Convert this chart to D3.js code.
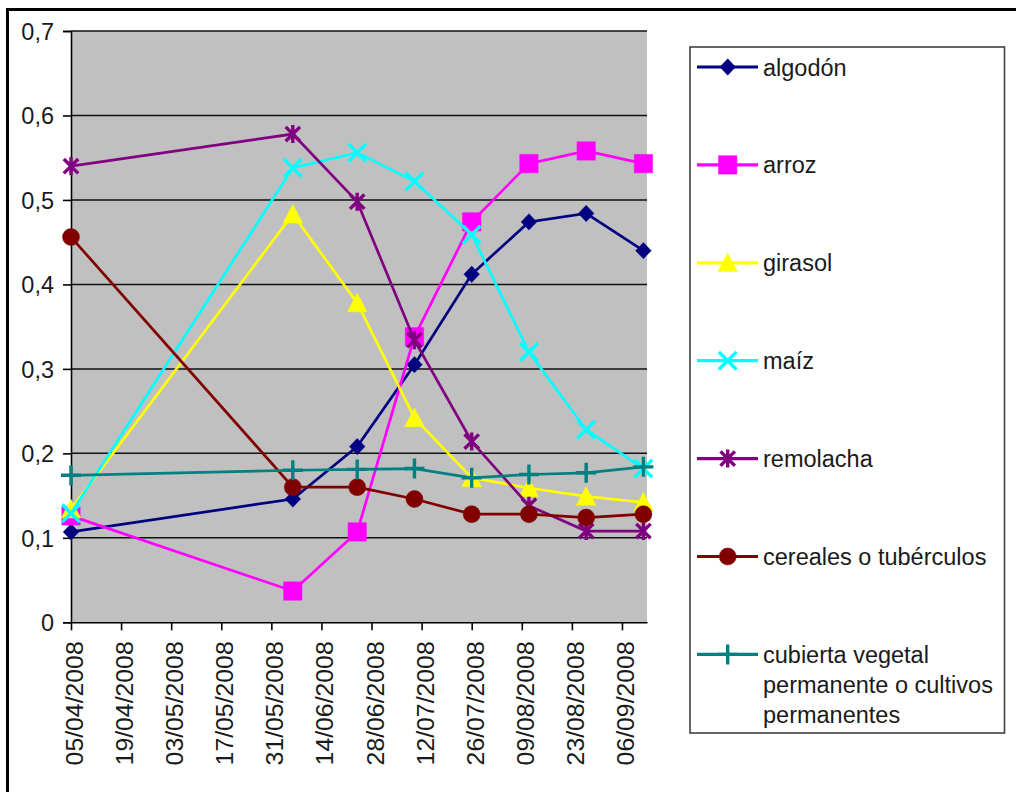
<!DOCTYPE html>
<html>
<head>
<meta charset="utf-8">
<script src="https://cdn.jsdelivr.net/npm/d3@7"></script>
<style>
  html, body { margin: 0; padding: 0; background: #ffffff; }
  svg { display: block; }
  text { font-family: "Liberation Sans", Arial, Helvetica, sans-serif; fill: #1a1a1a; }
</style>
</head>
<body>
<svg id="chart" width="1016" height="792"></svg>
<script>
// Sampling dates (dd/mm/yyyy)
const dates = ["05/04/2008", "06/06/2008", "24/06/2008", "10/07/2008",
               "26/07/2008", "11/08/2008", "27/08/2008", "12/09/2008"];

// Index values per crop class
const algodon   = [0.107, 0.146, 0.208, 0.305, 0.412, 0.474, 0.484, 0.440];
const arroz     = [0.126, 0.037, 0.107, 0.338, 0.474, 0.543, 0.558, 0.543];
const girasol   = [0.134, 0.483, 0.378, 0.242, 0.171, 0.159, 0.149, 0.142];
const maiz      = [0.129, 0.538, 0.556, 0.522, 0.459, 0.320, 0.228, 0.182];
const remolacha = [0.540, 0.578, 0.498, 0.334, 0.214, 0.138, 0.108, 0.108];
const cereales  = [0.456, 0.160, 0.160, 0.146, 0.128, 0.128, 0.124, 0.128];
const cubierta  = [0.174, 0.180, 0.181, 0.182, 0.171, 0.175, 0.177, 0.184];

const seriesNames = ["algodón", "arroz", "girasol", "maíz", "remolacha",
                     "cereales o tubérculos",
                     "cubierta vegetal permanente o cultivos permanentes"];

// Axis ticks
const xTickLabels = ["05/04/2008", "19/04/2008", "03/05/2008", "17/05/2008",
                     "31/05/2008", "14/06/2008", "28/06/2008", "12/07/2008",
                     "26/07/2008", "09/08/2008", "23/08/2008", "06/09/2008"];
const yTicks = [0, 0.1, 0.2, 0.3, 0.4, 0.5, 0.6, 0.7];
const xDomain = ["05/04/2008", "13/09/2008"];

const parse = d3.utcParse("%d/%m/%Y");

// Marker shapes; size is the half-extent of the mark in pixels
const shapes = {
  diamond: { fill: true, draw(c, s) { c.moveTo(0, -s); c.lineTo(s * 0.95, 0); c.lineTo(0, s); c.lineTo(-s * 0.95, 0); c.closePath(); } },
  square:  { fill: true, draw(c, s) { c.rect(-s, -s, 2 * s, 2 * s); } },
  triangle:{ fill: true, draw(c, s) { c.moveTo(0, -s); c.lineTo(s, s * 0.9); c.lineTo(-s, s * 0.9); c.closePath(); } },
  times:   { fill: false, draw(c, s) { c.moveTo(-s, -s); c.lineTo(s, s); c.moveTo(s, -s); c.lineTo(-s, s); } },
  asterisk:{ fill: false, draw(c, s) { const k = s * 0.8; c.moveTo(-k, -k); c.lineTo(k, k); c.moveTo(k, -k); c.lineTo(-k, k); c.moveTo(0, -s); c.lineTo(0, s); } },
  circle:  { fill: true, draw(c, s) { c.moveTo(s, 0); c.arc(0, 0, s, 0, 2 * Math.PI); } },
  plus:    { fill: false, draw(c, s) { c.moveTo(-s, 0); c.lineTo(s, 0); c.moveTo(0, -s); c.lineTo(0, s); } }
};

const series = [
  { name: seriesNames[0], values: algodon,   color: "#000080", shape: "diamond",  size: 8.2 },
  { name: seriesNames[1], values: arroz,     color: "#FF00FF", shape: "square",   size: 9.2 },
  { name: seriesNames[2], values: girasol,   color: "#FFFF00", shape: "triangle", size: 9.8 },
  { name: seriesNames[3], values: maiz,      color: "#00FFFF", shape: "times",    size: 8.8 },
  { name: seriesNames[4], values: remolacha, color: "#800080", shape: "asterisk", size: 9 },
  { name: seriesNames[5], values: cereales,  color: "#800000", shape: "circle",   size: 8.5 },
  { name: seriesNames[6], values: cubierta,  color: "#008080", shape: "plus",     size: 10 }
];

const svg = d3.select("#chart");
const plot = { left: 71, right: 647, top: 31, bottom: 622.3 };

const x = d3.scaleUtc().domain(xDomain.map(parse)).range([plot.left, plot.right]);
const y = d3.scaleLinear().domain([0, 0.7]).range([plot.bottom, plot.top]);
const fmt = v => v === 0 ? "0" : d3.format(".1f")(v).replace(".", ",");

// Outer frame
svg.append("path")
  .attr("d", "M7.5,800 L7.5,9.5 L1020,9.5")
  .attr("fill", "none").attr("stroke", "#000").attr("stroke-width", 3);

// Plot background
svg.append("rect")
  .attr("x", plot.left).attr("y", plot.top)
  .attr("width", plot.right - plot.left).attr("height", plot.bottom - plot.top)
  .attr("fill", "#C0C0C0");

// Horizontal gridlines
svg.append("g").selectAll("line").data(yTicks.filter(v => v > 0)).join("line")
  .attr("x1", plot.left).attr("x2", plot.right)
  .attr("y1", d => y(d)).attr("y2", d => y(d))
  .attr("stroke", "#111").attr("stroke-width", 1.5);

// Y axis
const yAxis = svg.append("g")
  .attr("transform", `translate(${plot.left},0)`)
  .call(d3.axisLeft(y).tickValues(yTicks).tickFormat(fmt).tickSize(8).tickPadding(9));
yAxis.select(".domain").attr("stroke", "#000").attr("stroke-width", 1.6);
yAxis.selectAll(".tick line").attr("stroke", "#000").attr("stroke-width", 1.6);
yAxis.selectAll(".tick text")
  .attr("font-size", 23.5).attr("fill", "#1a1a1a")
  .attr("font-family", "'Liberation Sans', Arial, sans-serif")
  .attr("dy", "0.36em");

// X axis
const xAxis = svg.append("g")
  .attr("transform", `translate(0,${plot.bottom})`)
  .call(d3.axisBottom(x).tickValues(xTickLabels.map(parse))
    .tickFormat(d3.utcFormat("%d/%m/%Y")).tickSize(8).tickSizeOuter(0));
xAxis.select(".domain").attr("stroke", "#000").attr("stroke-width", 1.6);
xAxis.selectAll(".tick line").attr("stroke", "#000").attr("stroke-width", 1.6);
xAxis.selectAll(".tick text")
  .attr("font-size", 24.8).attr("fill", "#1a1a1a")
  .attr("font-family", "'Liberation Sans', Arial, sans-serif")
  .attr("text-anchor", "end")
  .attr("transform", "translate(11.5,19) rotate(-90)")
  .attr("x", 0).attr("y", 0).attr("dy", 0);

// Series lines and markers
const line = d3.line().x(d => x(d.date)).y(d => y(d.v));

function marker(sel, s) {
  const sh = shapes[s.shape];
  sel.attr("d", d3.symbol().type(sh).size(s.size)())
    .attr("fill", sh.fill ? s.color : "none")
    .attr("stroke", s.color)
    .attr("stroke-width", sh.fill ? 0.5 : 3.4);
}

series.forEach(s => {
  const pts = s.values.map((v, i) => ({ date: parse(dates[i]), v }));
  const g = svg.append("g");
  g.append("path").datum(pts)
    .attr("d", line).attr("fill", "none")
    .attr("stroke", s.color).attr("stroke-width", 2.7);
  g.selectAll("path.m").data(pts).join("path").attr("class", "m")
    .attr("transform", d => `translate(${x(d.date)},${y(d.v)})`)
    .call(marker, s);
});

// Legend
const lg = svg.append("g");
lg.append("rect")
  .attr("x", 690).attr("y", 47).attr("width", 314.5).attr("height", 686)
  .attr("fill", "#fff").attr("stroke", "#404040").attr("stroke-width", 1.6);

const wrapped = {
  [seriesNames[6]]: ["cubierta vegetal", "permanente o cultivos", "permanentes"]
};

series.forEach((s, i) => {
  const ly = 67 + i * 97.9;
  const item = lg.append("g");
  item.append("line")
    .attr("x1", 697).attr("x2", 758).attr("y1", ly).attr("y2", ly)
    .attr("stroke", s.color).attr("stroke-width", 3.2);
  item.append("path")
    .attr("transform", `translate(727.7,${ly})`)
    .call(marker, s);
  const lines = wrapped[s.name] || [s.name];
  const t = item.append("text")
    .attr("x", 763).attr("y", ly + 8.5)
    .attr("font-size", 23.5);
  lines.forEach((ln, j) => {
    t.append("tspan").attr("x", 763).attr("dy", j === 0 ? 0 : 30).text(ln);
  });
});
</script>
</body>
</html>
